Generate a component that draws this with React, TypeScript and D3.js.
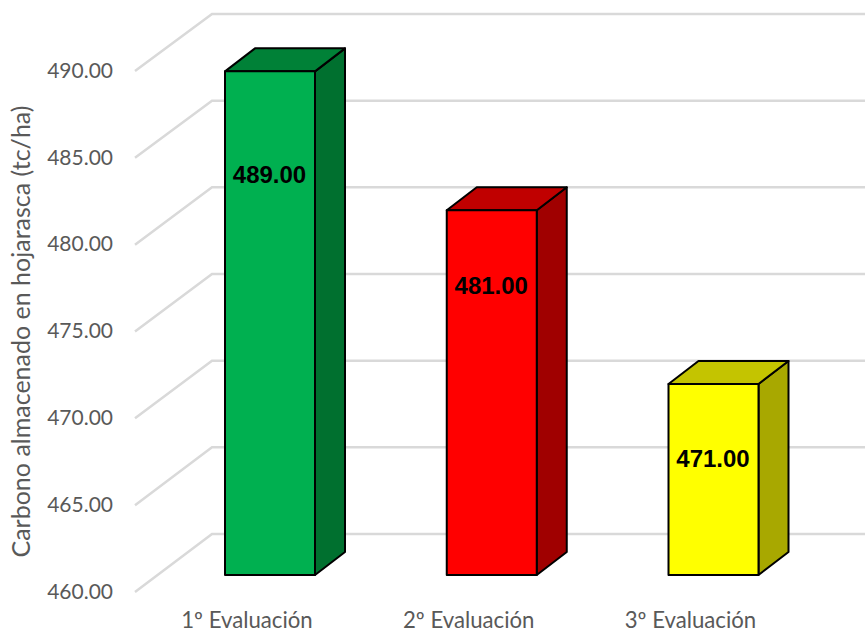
import React from "react";
import * as d3 from "d3";

const categories = ["1º Evaluación", "2º Evaluación", "3º Evaluación"];
const values = [489, 481, 471];
const faceColors = ["#00B050", "#FF0000", "#FFFF00"];
const topColors = ["#008137", "#C00000", "#C4C400"];
const sideColors = ["#00702F", "#A00000", "#A8A800"];
const yTicks = [460, 465, 470, 475, 480, 485, 490];
const axisTitle = "Carbono almacenado en hojarasca (tc/ha)";

const WIDTH = 865;
const HEIGHT = 632;
const BAR_WIDTH = 90;
const DEPTH_X = 30;
const DEPTH_Y = 23;
const LABEL_DROP = [105.5, 77.5, 76.5];
const AXIS_FONT = "Lato, 'Open Sans', sans-serif";

const domain: [number, number] = [460, 490];
const yBar = d3.scaleLinear().domain(domain).range([575, 54]);
const yWallFront = d3.scaleLinear().domain(domain).range([592, 71]);
const yWallBack = d3.scaleLinear().domain(domain).range([534, 14]);
const xBand = d3.scalePoint<string>().domain(categories).range([270, 713.5]);

const fmt = d3.format(".2f");
const poly = (pts: [number, number][]) => (d3.line()(pts) ?? "") + "Z";

export default function App() {
  return (
    <svg
      width={WIDTH}
      height={HEIGHT}
      viewBox={`0 0 ${WIDTH} ${HEIGHT}`}
      style={{ position: "absolute", left: 0, top: 0, background: "#fff" }}
    >
      {/* Wall and floor gridlines */}
      {yTicks.map((t) => (
        <path
          key={t}
          d={d3.line()([
            [135, yWallFront(t)],
            [212, yWallBack(t)],
            [WIDTH, yWallBack(t)],
          ]) ?? ""}
          fill="none"
          stroke="#D9D9D9"
          strokeWidth={2.5}
        />
      ))}

      {/* Value axis labels */}
      {yTicks.map((t) => (
        <text
          key={t}
          x={113}
          y={yWallFront(t) - 2 + 3.5}
          textAnchor="end"
          dominantBaseline="middle"
          fontFamily={AXIS_FONT}
          fontSize={21}
          fill="#595959"
        >
          {fmt(t)}
        </text>
      ))}

      <text
        transform="translate(24,331.5) rotate(-90)"
        textAnchor="middle"
        dominantBaseline="middle"
        fontFamily={AXIS_FONT}
        fontSize={25}
        fill="#595959"
      >
        {axisTitle}
      </text>

      {/* Extruded bars */}
      {categories.map((c, i) => {
        const left = (xBand(c) ?? 0) - BAR_WIDTH / 2;
        const right = left + BAR_WIDTH;
        const top = yBar(values[i]);
        const base = yBar(domain[0]);
        return (
          <g key={c} stroke="#000" strokeWidth={2} strokeLinejoin="round">
            <path
              d={poly([
                [right, top],
                [right + DEPTH_X, top - DEPTH_Y],
                [right + DEPTH_X, base - DEPTH_Y],
                [right, base],
              ])}
              fill={sideColors[i]}
            />
            <path
              d={poly([
                [left, top],
                [left + DEPTH_X, top - DEPTH_Y],
                [right + DEPTH_X, top - DEPTH_Y],
                [right, top],
              ])}
              fill={topColors[i]}
            />
            <rect x={left} y={top} width={BAR_WIDTH} height={base - top} fill={faceColors[i]} />
          </g>
        );
      })}

      {/* Value labels on the bar faces */}
      {categories.map((c, i) => (
        <text
          key={c}
          x={(xBand(c) ?? 0) - 0.5}
          y={yBar(values[i]) + LABEL_DROP[i]}
          textAnchor="middle"
          dominantBaseline="middle"
          fontFamily="'Liberation Sans', Arial, sans-serif"
          fontWeight="bold"
          fontSize={24}
          fill="#000"
        >
          {fmt(values[i])}
        </text>
      ))}

      {/* Category labels */}
      {categories.map((c) => (
        <text
          key={c}
          x={(xBand(c) ?? 0) - 23}
          y={622}
          textAnchor="middle"
          dominantBaseline="middle"
          fontFamily={AXIS_FONT}
          fontSize={22.2}
          fill="#595959"
        >
          {c}
        </text>
      ))}
    </svg>
  );
}
